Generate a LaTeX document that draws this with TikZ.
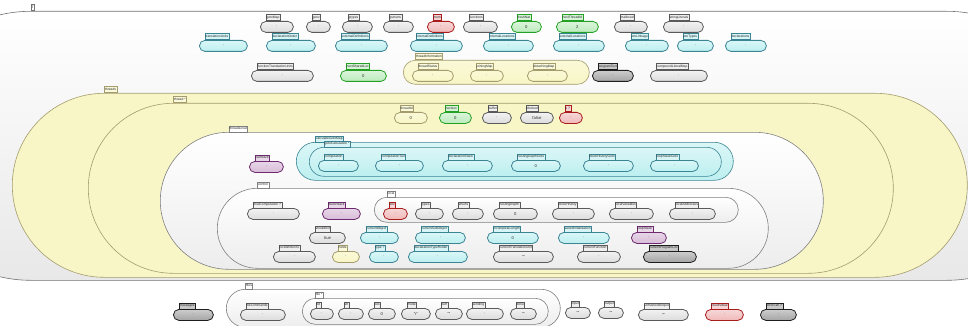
\documentclass[tikz,border=0pt]{standalone}
\usepackage{fontspec}
\setmainfont{Liberation Sans}
\definecolor{grayF}{HTML}{DCDCDC}\definecolor{grayD}{HTML}{5A5A5A}
\definecolor{cyanF}{HTML}{BDEFF0}\definecolor{cyanD}{HTML}{3A8494}
\definecolor{greenF}{HTML}{BDEBBD}\definecolor{greenD}{HTML}{24A024}
\definecolor{redF}{HTML}{F0B8B8}\definecolor{redD}{HTML}{A81C1C}
\definecolor{yelF}{HTML}{F8F6C6}\definecolor{yelD}{HTML}{A49C6C}
\definecolor{purF}{HTML}{D8BCD8}\definecolor{purD}{HTML}{6E2A6E}
\definecolor{dgrF}{HTML}{A4A4A4}\definecolor{dgrD}{HTML}{1E1E1E}
\definecolor{whtF}{HTML}{EDEDED}\definecolor{whtD}{HTML}{808080}
\tikzset{
  bodybox/.style={rectangle,inner sep=0pt,minimum height=11pt,rounded corners=5.5pt,line width=0.8pt,
    font=\fontsize{4.2}{4.2}\selectfont,text=black!80},
  contbox/.style={bodybox,line width=0.6pt},
  tabbox/.style={rectangle,inner xsep=0.8pt,inner ysep=0pt,minimum height=6pt,text height=2.6pt,text depth=0.6pt,
    line width=0.5pt,font=\fontsize{3.3}{3.3}\selectfont,text=black!85},
  cgray/.style={top color=grayF!35,bottom color=grayF,draw=grayD},
  ccyan/.style={top color=cyanF!55,bottom color=cyanF,draw=cyanD},
  cgreen/.style={top color=greenF!55,bottom color=greenF,draw=greenD},
  cred/.style={top color=redF!55,bottom color=redF,draw=redD},
  cyel/.style={top color=yelF!70,bottom color=yelF,draw=yelD},
  cpur/.style={top color=purF!60,bottom color=purF,draw=purD},
  cdgr/.style={top color=dgrF!55,bottom color=dgrF,draw=dgrD},
  cwht/.style={top color=white,bottom color=whtF,draw=whtD},
  cyelbig/.style={fill=yelF,draw=yelD},
  tcgray/.style={fill=grayF!45,draw=grayD},
  tccyan/.style={fill=cyanF!60,draw=cyanD},
  tcgreen/.style={fill=greenF!60,draw=greenD},
  tcred/.style={fill=redF!60,draw=redD},
  tcyel/.style={fill=yelF!60,draw=yelD},
  tcpur/.style={fill=purF!60,draw=purD},
  tcdgr/.style={fill=dgrF!60,draw=dgrD},
  tcwht/.style={fill=white,draw=whtD},
  tcyelbig/.style={fill=yelF!60,draw=yelD},
}
% leaf: name, style, x1, x2, ytab, label, value
\newcommand\leaf[7]{%
  \pgfmathsetmacro\lw{#4-#3}%
  \node[bodybox,#2,minimum width=\lw pt,anchor=north west] (#1) at ({#3},{#5+6}) {#7};
  \node[tabbox,t#2,anchor=south west] (#1-tab) at ({#3+5.5},{#5+6}) {#6};
}
% container: name, style, x1, x2, y1, y2, r, label
\newcommand\cont[8]{%
  \pgfmathsetmacro\cw{#4-#3}\pgfmathsetmacro\ch{#6-#5}%
  \node[contbox,#2,minimum width=\cw pt,minimum height=\ch pt,rounded corners=#7pt,anchor=north west] (#1) at ({#3},{#5}) {};
  \node[tabbox,t#2,anchor=south west] (#1-tab) at ({#3+#7},{#5}) {#8};
}
\begin{document}
\begin{tikzpicture}[x=1pt,y=-1pt]
\useasboundingbox (0,0) rectangle (968,326);
\clip (0,0) rectangle (968,326);
\fill[white] (0,0) rectangle (968,326);
% outer T
\pgfmathsetmacro\cw{1185}\pgfmathsetmacro\ch{269}
\node[contbox,top color=white,bottom color=black!9,draw=black!55,minimum width=\cw pt,minimum height=\ch pt,rounded corners=134.5pt,anchor=north west] (T) at (-104,11) {};
\node[tabbox,fill=white,draw=black!55,anchor=south west] (T-tab) at (30.5,11) {T};
% row 1
\leaf{gotoMap}{cgray}{260}{293}{15}{gotoMap}{·}
\leaf{genv}{cgray}{306}{330}{15}{genv}{·}
\leaf{gtypes}{cgray}{342}{372}{15}{gtypes}{·}
\leaf{gstructs}{cgray}{383}{413}{15}{gstructs}{·}
\leaf{mem}{cred}{427}{454}{15}{mem}{·}
\leaf{functions}{cgray}{463}{497}{15}{functions}{·}
\leaf{freshNat}{cgreen}{511}{541}{15}{freshNat}{0}
\leaf{nextThreadId}{cgreen}{556}{598}{15}{nextThreadId}{2}
\leaf{malloced}{cgray}{614}{647}{15}{malloced}{·}
\leaf{stringLiterals}{cgray}{663}{703}{15}{stringLiterals}{·}
% row 2
\leaf{translationUnits}{ccyan}{199}{247}{34}{translationUnits}{·}
\leaf{declarationOrder}{ccyan}{266}{315}{34}{declarationOrder}{·}
\leaf{externalDefinitions}{ccyan}{335}{387}{34}{externalDefinitions}{·}
\leaf{internalDefinitions}{ccyan}{410}{462}{34}{internalDefinitions}{·}
\leaf{internalLocations}{ccyan}{483}{533}{34}{internalLocations}{·}
\leaf{externalLocations}{ccyan}{553}{604}{34}{externalLocations}{·}
\leaf{preLinkage}{ccyan}{625}{668}{34}{preLinkage}{·}
\leaf{preTypes}{ccyan}{677}{713}{34}{preTypes}{·}
\leaf{declarations}{ccyan}{725}{766}{34}{declarations}{·}
% row 3
\leaf{functionTranslationUnits}{cgray}{251}{313}{64}{functionTranslationUnits}{·}
\leaf{nextSharedLoc}{cgreen}{340}{386}{64}{nextSharedLoc}{0}
\cont{threadInformation}{cyel}{403}{589}{60}{84}{12}{threadInformation}
\leaf{threadStatus}{cyel}{412}{453}{64}{threadStatus}{·}
\leaf{joiningMap}{cyel}{470}{503}{64}{joiningMap}{·}
\leaf{detachingMap}{cyel}{527}{567}{64}{detachingMap}{·}
\leaf{programText}{cdgr}{592}{633}{64}{programText}{·}
\leaf{compoundLiteralMap}{cgray}{650}{707}{64}{compoundLiteralMap}{·}
% threads
\cont{threads}{cyelbig}{12}{967}{93}{277}{92}{threads}
\cont{thread}{cyelbig}{88}{893}{103}{273}{85}{thread *}
\leaf{threadId}{cyel}{394}{427}{106}{threadId}{0}
\leaf{nextLoc}{cgreen}{439}{471}{106}{nextLoc}{0}
\leaf{buffer}{cgray}{482}{511}{106}{buffer}{·}
\leaf{blocked}{cgray}{520}{553}{106}{blocked}{false}
\leaf{k}{cred}{559}{582}{106}{k ?}{·}
% threadLocal
\cont{threadLocal}{cwht}{160}{823}{132}{269}{68.5}{threadLocal}
\leaf{callStack}{cpur}{249}{283}{155}{callStack}{·}
\cont{calculateGotoMap}{ccyan}{296}{733}{142}{180}{19}{calculateGotoMap}
\cont{gotoCalculation}{ccyan}{309}{721}{147}{176}{14.5}{gotoCalculation *}
\leaf{computation}{ccyan}{318}{358}{154}{computation}{·}
\leaf{computationTail}{ccyan}{375}{423}{154}{computationTail}{·}
\leaf{declarationStack}{ccyan}{442}{492}{154}{declarationStack}{·}
\leaf{nestingDepthGoto}{ccyan}{511}{560}{154}{nestingDepthGoto}{0}
\leaf{blockHistoryGoto}{ccyan}{583}{633}{154}{blockHistoryGoto}{·}
\leaf{loopStackGoto}{ccyan}{650}{698}{154}{loopStackGoto}{·}
% control
\cont{control}{cwht}{217}{768}{188}{268}{40}{control}
\leaf{finalComputation}{cgray}{247}{299}{202}{finalComputation ?}{·}
\leaf{blockStack}{cpur}{322}{360}{202}{blockStack}{·}
\cont{local}{cwht}{374}{738}{197}{222}{12.5}{local}
\leaf{env}{cred}{383}{407}{202}{env}{·}
\leaf{types}{cgray}{415}{443}{202}{types}{·}
\leaf{structs}{cgray}{452}{483}{202}{structs}{·}
\leaf{nestingDepth}{cgray}{493}{537}{202}{nestingDepth}{0}
\leaf{blockHistory}{cgray}{552}{594}{202}{blockHistory}{·}
\leaf{localVariables}{cgray}{609}{653}{202}{localVariables}{·}
\leaf{localAddresses}{cgray}{669}{715}{202}{localAddresses}{·}
\leaf{shouldInit}{cgray}{309}{345}{226}{shouldInit}{true}
\leaf{currentObject}{ccyan}{360}{398}{226}{currentObject}{·}
\leaf{currentSubObject}{ccyan}{415}{465}{226}{currentSubObject}{·}
\leaf{incompleteLength}{ccyan}{487}{538}{226}{incompleteLength}{0}
\leaf{savedInitialization}{ccyan}{558}{609}{226}{savedInitialization}{·}
\leaf{loopStack}{cpur}{631}{666}{226}{loopStack}{·}
\leaf{locsWrittenTo}{cgray}{273}{315}{245}{locsWrittenTo}{·}
\leaf{holds}{cyel}{332}{359}{245}{holds}{·}
\leaf{type}{ccyan}{369}{398}{245}{type ?}{·}
\leaf{declarationTypeHolder}{ccyan}{408}{467}{245}{declarationTypeHolder}{·}
\leaf{currentTranslationUnit}{cgray}{493}{553}{245}{currentTranslationUnit}{“”}
\leaf{currentFunction}{cgray}{577}{620}{245}{currentFunction}{·}
\leaf{currentProgramLoc}{cdgr}{643}{696}{245}{currentProgramLoc}{·}
% bottom
\leaf{messages}{cdgr}{173}{213}{303}{messages}{·}
\cont{files}{cwht}{226}{560}{289}{327}{19}{files}
\leaf{fileCommands}{cgray}{240}{285}{303}{fileCommands}{·}
\cont{file}{cwht}{302}{548}{298}{324}{13}{file *}
\leaf{fid}{cgray}{310}{333}{302}{fid}{·}
\leaf{str}{cgray}{338}{363}{302}{str}{·}
\leaf{pos}{cgray}{368}{395}{302}{pos}{0}
\leaf{mode}{cgray}{401}{430}{302}{mode}{“r”}
\leaf{buff}{cgray}{435}{462}{302}{buff}{“”}
\leaf{sending}{cgray}{466}{503}{302}{sending}{·}
\leaf{done}{cgray}{510}{536}{302}{done}{“”}
\leaf{input}{cgray}{565}{590}{301}{input}{“”}
\leaf{output}{cgray}{598}{623}{301}{output}{“”}
\leaf{unflushedOutput}{cgray}{638}{688}{303}{unflushedOutput}{“”}
\leaf{resultValue}{cred}{705}{743}{303}{resultValue}{·}
\leaf{errorCell}{cdgr}{760}{796}{303}{errorCell ?}{·}
\end{tikzpicture}
\end{document}
